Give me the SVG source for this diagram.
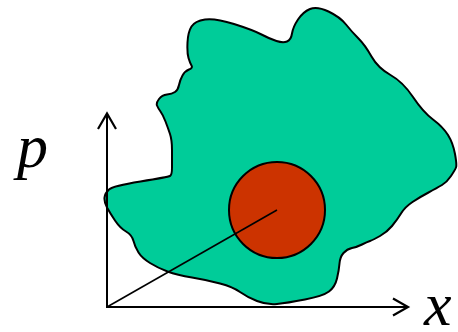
<svg xmlns="http://www.w3.org/2000/svg" width="458" height="332" viewBox="0 0 458 332">
<style>
.lbl{font-family:"Liberation Serif","Times New Roman",serif;font-style:italic;font-size:62px;fill:#000}
.ax{stroke:#000;stroke-width:2;fill:none}
.head{stroke:#000;stroke-width:2.2;fill:none;stroke-linejoin:miter}
</style>
<rect width="458" height="332" fill="#fff"/>
<g id="region">
<path fill="#00CC99" stroke="#000" stroke-width="2" stroke-linejoin="round" d="M191.5,26.5 Q195,21 205,19.5 Q215,18 234,24 Q253,30 261.5,34.5 Q270,39 276.5,41 Q283,43 287,41.5 Q291,40 292,33.5 Q293,27 298,19.5 Q303,12 310,9 Q317,6 328.5,11.5 Q340,17 346,24.5 Q352,32 358.5,38.5 Q365,45 371.5,56.5 Q378,68 390.5,75 Q403,82 413,97 Q423,112 433,119.5 Q443,127 448,135 Q453,143 455,154 Q457,165 456,167.5 Q455,170 451,176 Q447,182 442,185 Q437,188 428.5,192.5 Q420,197 412.5,202 Q405,207 401,213.5 Q397,220 392,226 Q387,232 380,236 Q373,240 370,241 Q367,242 362,244.5 Q357,247 352,248 Q347,249 343.5,253 Q340,257 339.5,263.5 Q339,270 337,278.5 Q335,287 329,291.5 Q323,296 305,299.5 Q287,303 277,304 Q267,305 257,301 Q247,297 240,292 Q233,287 220,283.5 Q207,280 192,277.5 Q177,275 167.5,271.5 Q158,268 150,263 Q142,258 138.5,252.5 Q135,247 133.5,241 Q132,235 126,231.5 Q120,228 115,220.5 Q110,213 107,207.5 Q104,202 104.5,197.5 Q105,193 109,189.5 Q113,186 140.5,181.5 Q168,177 170,176 Q172,175 172,167.5 Q172,160 172,150 Q172,140 170,134 Q168,128 165.5,121.5 Q163,115 160.5,111.5 Q158,108 157,105.5 Q156,103 159,99 Q162,95 167,94.5 Q172,94 175,92 Q178,90 179,85 Q180,80 182.5,75.5 Q185,71 189,69.5 Q193,68 191.5,65.5 Q190,63 188.5,58 Q187,53 187.5,42.5 Q188,32 191.5,26.5 Z"/>
</g>
<g id="disk">
<circle cx="277" cy="210" r="48" fill="#CC3300" stroke="#000" stroke-width="2"/>
</g>
<g id="connectors">
<line class="ax" x1="107" y1="308" x2="107" y2="114"/>
<polyline class="head" points="98,129 107,113.5 116,129"/>
<line class="ax" x1="106" y1="307" x2="407" y2="307"/>
<polyline class="head" points="393,298.5 408,307 393,315.5"/>
<line x1="107" y1="307" x2="277" y2="210" stroke="#000" stroke-width="1.6"/>
</g>
<g id="labels">
<text class="lbl" x="17" y="167">p</text>
<text class="lbl" x="424" y="325">x</text>
</g>
</svg>
